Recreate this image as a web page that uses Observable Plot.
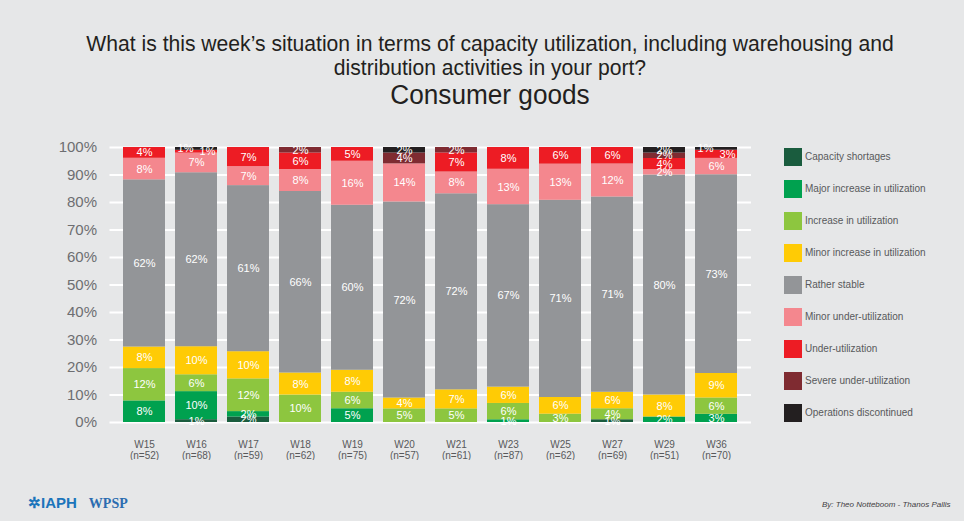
<!DOCTYPE html>
<html>
<head>
<meta charset="utf-8">
<script src="https://cdn.jsdelivr.net/npm/d3@7"></script>
<script src="https://cdn.jsdelivr.net/npm/@observablehq/plot@0.6"></script>
<style>
  html, body { margin: 0; padding: 0; background: #e6e7e8; }
  #page { position: relative; width: 964px; height: 521px; background: #e6e7e8; overflow: hidden; font-family: "Liberation Sans", Arial, sans-serif; }
  .title { position: absolute; left: 0; width: 980px; text-align: center; color: #231f20; font-family: "Liberation Sans", Arial, sans-serif; transform-origin: 490px 50%; }
  #chart { position: absolute; left: 0; top: 130px; }
  #legend { position: absolute; left: 784px; top: 148px; }
  .li { position: absolute; left: 0; height: 18px; white-space: nowrap; }
  .sw { position: absolute; left: 0; top: 0; width: 18px; height: 18px; }
  .lt { position: absolute; left: 21px; top: 3px; font-size: 10px; color: #58595b; }
  #credit { position: absolute; left: 822px; top: 500px; font-size: 8px; font-style: italic; color: #414042; }
  #logos { position: absolute; left: 28px; top: 494px; font-weight: bold; }
</style>
</head>
<body>
<div id="page">
  <div class="title" style="top:31px;font-size:22px;transform:scaleX(0.96);">What is this week’s situation in terms of capacity utilization, including warehousing and</div>
  <div class="title" style="top:55px;font-size:22px;transform:scaleX(0.96);">distribution activities in your port?</div>
  <div class="title" style="top:80px;font-size:27px;transform:scaleX(0.97);">Consumer goods</div>
  <div id="chart"></div>
  <div id="legend"></div>
  <div id="logos"><span style="color:#1b75bb;font-size:15px;font-family:'Liberation Sans',sans-serif;">✲IAPH</span><span style="color:#2b6cb0;font-size:14px;font-family:'Liberation Serif',serif;margin-left:12px;">WPSP</span></div>
  <div id="credit">By: Theo Notteboom - Thanos Pallis</div>
</div>
<script>
const weeks = ["W15","W16","W17","W18","W19","W20","W21","W23","W25","W27","W29","W36"];
const respondents = [52,68,59,62,75,57,61,87,62,69,51,70];
const categories = ["Capacity shortages","Major increase in utilization","Increase in utilization","Minor increase in utilization","Rather stable","Minor under-utilization","Under-utilization","Severe under-utilization","Operations discontinued"];
const colors = ["#1a5c3e","#00a14f","#8dc63f","#ffcb05","#939598","#f4878e","#ed1c24","#7f2b31","#231f20"];

const capacityShortages = [0,1,2,0,0,0,0,0,0,1,0,0];
const majorIncrease     = [8,10,2,0,5,0,0,1,0,0,2,3];
const increase          = [12,6,12,10,6,5,5,6,3,4,0,6];
const minorIncrease     = [8,10,10,8,8,4,7,6,6,6,8,9];
const ratherStable      = [62,62,61,66,60,72,72,67,71,71,80,73];
const minorUnder        = [8,7,7,8,16,14,8,13,13,12,2,6];
const underUtil         = [4,1,7,6,5,0,7,8,6,6,4,3];
const severeUnder       = [0,0,0,2,0,4,2,0,0,0,2,0];
const discontinued      = [0,1,0,0,0,2,0,0,0,0,2,1];

const series = [capacityShortages, majorIncrease, increase, minorIncrease, ratherStable, minorUnder, underUtil, severeUnder, discontinued];

const data = [];
weeks.forEach((w, i) => {
  // when "Operations discontinued" sits directly on "Under-utilization", the two small labels are set side by side
  const sideBySide = discontinued[i] > 0 && severeUnder[i] === 0;
  categories.forEach((c, j) => {
    let side = 0;
    if (sideBySide && j === 8) side = -1;
    if (sideBySide && j === 6) side = 1;
    data.push({week: w, category: c, value: series[j][i], side});
  });
});

const labelOf = new Map(weeks.map((w, i) => [w, `${w}\n(n=${respondents[i]})`]));

const stackOpts = {x: "week", y: "value", z: "category", order: categories, offset: "normalize"};
const lbl = s => d => (d.value > 0 && d.side === s) ? d.value + "%" : "";

const chart = Plot.plot({
  width: 770,
  height: 330,
  marginLeft: 109.5,
  marginRight: 19,
  marginTop: 17,
  marginBottom: 38,
  style: {background: "transparent", fontFamily: "'Liberation Sans', Arial, sans-serif"},
  x: {domain: weeks, padding: 0.2, label: null},
  y: {domain: [0, 1], label: null},
  color: {domain: categories, range: colors},
  marks: [
    Plot.gridY(d3.range(0, 1.01, 0.1), {stroke: "white", strokeOpacity: 1, strokeWidth: 2}),
    Plot.barY(data, Plot.stackY({...stackOpts, fill: "category"})),
    Plot.text(data, Plot.stackY({...stackOpts, text: lbl(0), fill: "white", fontSize: 11})),
    Plot.text(data, Plot.stackY({...stackOpts, text: lbl(-1), fill: "white", fontSize: 11, dx: -11})),
    Plot.text(data, Plot.stackY({...stackOpts, text: lbl(1), fill: "white", fontSize: 11, dx: 11})),
    Plot.axisX({tickSize: 0, tickPadding: 18, fontSize: 10, fill: "#58595b", tickFormat: d => labelOf.get(d), lineHeight: 1.1}),
    Plot.axisY({tickSize: 0, tickPadding: 13, fontSize: 15, fill: "#6d6e71", tickFormat: d => Math.round(d * 100) + "%", ticks: d3.range(0, 1.01, 0.1)})
  ]
});
document.getElementById("chart").appendChild(chart);

const legend = document.getElementById("legend");
categories.forEach((c, j) => {
  const item = document.createElement("div");
  item.className = "li";
  item.style.top = (j * 32) + "px";
  item.innerHTML = `<div class="sw" style="background:${colors[j]}"></div><div class="lt">${c}</div>`;
  legend.appendChild(item);
});
</script>
</body>
</html>
